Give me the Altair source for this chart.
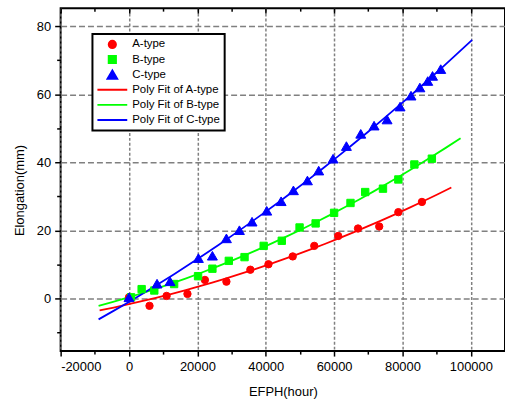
import altair as alt
import pandas as pd

# ---- data ----
A_x = [0, 6000, 11000, 17100, 22200, 28500, 35500, 40800, 47900, 54200, 61200, 67000, 73200, 78800, 85700]
A_y = [0.4, -2.1, 0.8, 1.4, 5.5, 5.0, 8.5, 10.1, 12.4, 15.5, 18.4, 20.6, 21.2, 25.4, 28.4]

B_x = [600, 3700, 7400, 13200, 20200, 24400, 29200, 33800, 39400, 44700, 49900, 54600, 60000, 64800,
       69100, 74300, 78800, 83500, 88600]
B_y = [0.4, 2.8, 2.4, 4.3, 6.6, 8.8, 11.1, 12.2, 15.5, 17.0, 20.9, 22.1, 25.2, 28.1,
       31.3, 32.3, 35.0, 39.4, 41.1]

C_x = [0, 8200, 12000, 20300, 24400, 28500, 32300, 36000, 40300, 44500, 48100, 52200, 55500, 59700,
       63600, 67800, 71700, 75500, 79300, 82500, 85100, 87400, 88800, 91200]
C_y = [0.4, 4.4, 5.1, 11.9, 12.6, 17.7, 20.1, 22.6, 25.8, 28.6, 31.8, 34.7, 37.6, 41.1,
       44.8, 48.4, 50.8, 52.6, 56.4, 59.6, 62.0, 63.9, 65.4, 67.4]

series_names = ["A-type", "B-type", "C-type"]
fit_names = ["Poly Fit of A-type", "Poly Fit of B-type", "Poly Fit of C-type"]
fit_extents = [[-8600, 94300], [-8900, 97000], [-8900, 100400]]

legend_domain = series_names + fit_names
legend_colors = ["#ff0000", "#00ff00", "#0000ff", "#ff0000", "#00ff00", "#0000ff"]
legend_shapes = ["circle", "square", "triangle-up", "stroke", "stroke", "stroke"]
legend_sizes = [55, 55, 100, 900, 900, 900]

x_major = [-20000, 0, 20000, 40000, 60000, 80000, 100000]
x_minor = [-10000, 10000, 30000, 50000, 70000, 90000]
y_major = [0, 20, 40, 60, 80]
y_minor = [-10, 10, 30, 50, 70]

rows = []
for name, xs, ys in zip(series_names, [A_x, B_x, C_x], [A_y, B_y, C_y]):
    for xv, yv in zip(xs, ys):
        rows.append({"series": name, "EFPH": xv, "Elong": yv})
df = pd.DataFrame(rows)

FONT = "Liberation Sans"
xscale = alt.Scale(domain=[-20000, 110000], nice=False, zero=False)
yscale = alt.Scale(domain=[-15.4, 85.3], nice=False, zero=False)
color_scale = alt.Scale(domain=legend_domain, range=legend_colors)
shape_scale = alt.Scale(domain=legend_domain, range=legend_shapes)
size_scale = alt.Scale(type="ordinal", domain=legend_domain, range=legend_sizes)

x_axis_major = alt.Axis(orient="bottom", values=x_major, labelExpr="'' + datum.value",
                        title="EFPH(hour)",
                        grid=True, gridDash=[3, 2], gridColor="#808080", gridWidth=1.5,
                        tickSize=5, labelPadding=5, domain=False,
                        titleX=223.5, titleY=41, titleAlign="center", titleBaseline="middle")
x_axis_minor = alt.Axis(orient="bottom", values=x_minor, labels=False, grid=False, tickSize=3,
                        domain=False, title=None)
x_axis_top = alt.Axis(orient="top", values=x_major, labels=False, grid=False, tickSize=5,
                      offset=-5, domain=False, title=None)
x_axis_top_minor = alt.Axis(orient="top", values=x_minor, labels=False, grid=False, tickSize=3,
                            offset=-3, domain=False, title=None)
y_axis_major = alt.Axis(orient="left", values=y_major, title="Elongation(mm)",
                        grid=True, gridDash=[6, 3], gridColor="#808080", gridWidth=1.5,
                        tickSize=6, labelPadding=4, domain=False,
                        titleX=-41, titleY=183, titleAngle=270, titleAlign="center",
                        titleBaseline="middle")
y_axis_minor = alt.Axis(orient="left", values=y_minor, labels=False, grid=False, tickSize=4,
                        domain=False, title=None)


def fit_layer(i, xaxis, yaxis):
    name = series_names[i]
    return (
        alt.Chart(df)
        .transform_filter(alt.datum.series == name)
        .transform_regression("EFPH", "Elong", method="poly", order=2, extent=fit_extents[i])
        .transform_calculate(series=f"'{fit_names[i]}'")
        .mark_line(strokeWidth=1.8)
        .encode(
            x=alt.X("EFPH:Q", scale=xscale, axis=xaxis),
            y=alt.Y("Elong:Q", scale=yscale, axis=yaxis),
            stroke=alt.Stroke("series:N", scale=color_scale, title=None),
        )
    )


lineA = fit_layer(0, x_axis_major, y_axis_major)
lineB = fit_layer(1, x_axis_minor, y_axis_minor)
lineC = fit_layer(2, x_axis_top, None)

points = alt.Chart(df).mark_point(filled=True, opacity=1, strokeWidth=1).encode(
    x=alt.X("EFPH:Q", scale=xscale, axis=x_axis_top_minor),
    y=alt.Y("Elong:Q", scale=yscale, axis=None),
    fill=alt.Fill("series:N", scale=color_scale, title=None),
    stroke=alt.Stroke("series:N", scale=color_scale, title=None),
    shape=alt.Shape("series:N", scale=shape_scale, title=None),
    size=alt.Size("series:N", scale=size_scale, title=None),
)

chart = (
    alt.layer(lineA, lineB, lineC, points)
    .resolve_axis(x="independent", y="independent")
    .properties(
        width=447, height=345,
        autosize=alt.AutoSizeParams(type="none"),
        padding={"left": 61, "top": 7, "right": 0, "bottom": 51},
        background="white",
    )
    .configure_view(stroke="black", strokeWidth=2)
    .configure_axis(
        labelFont=FONT, labelFontSize=13, labelColor="black",
        titleFont=FONT, titleFontSize=13, titleFontWeight="normal", titleColor="black",
        tickColor="black", tickWidth=1.5,
    )
    .configure_legend(
        orient="none", legendX=32, legendY=26,
        strokeColor="black", strokeWidth=2, fillColor="white", padding=4,
        labelFont=FONT, labelFontSize=11.5, labelColor="black", labelOffset=4,
        clipHeight=13, rowPadding=2.2, symbolStrokeWidth=1.8, symbolOffset=0,
    )
)

chart.save("out.html", embed_options={"renderer": "svg", "actions": False})
